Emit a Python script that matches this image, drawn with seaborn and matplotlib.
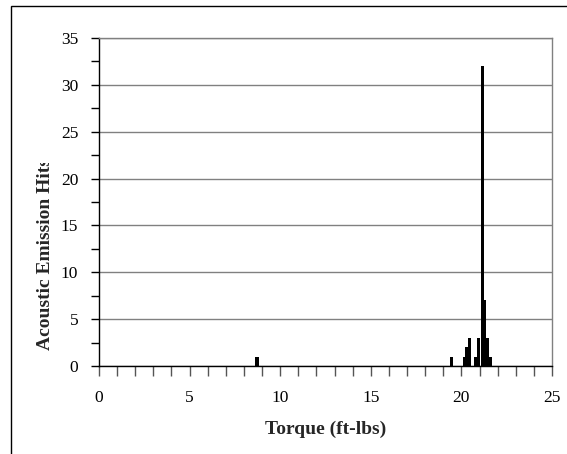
import numpy as np
import pandas as pd
import matplotlib
matplotlib.use("Agg")
import matplotlib.pyplot as plt
from matplotlib.patches import Rectangle
from matplotlib.ticker import MultipleLocator, FuncFormatter
from matplotlib.transforms import Bbox
import seaborn as sns

# ---------------------------------------------------------------------------
#  Data
# ---------------------------------------------------------------------------
torque = [8.72, 19.44, 20.16, 20.305, 20.45, 20.79, 20.935, 21.15, 21.295, 21.44, 21.585]
hits = [1, 1, 1, 2, 3, 1, 3, 32, 7, 3, 1]

x_label = "Torque (ft-lbs)"
y_label = "Acoustic Emission Hits"
bar_width = 0.175  # data units

W, H = 567, 454

sns.set_theme(style="white")
plt.rcParams['font.family'] = ['Liberation Serif', 'DejaVu Serif']

fig = plt.figure(figsize=(W / 100, H / 100), dpi=100)
ax = fig.add_axes([99 / W, 1 - 366 / H, (552 - 99) / W, (366 - 38) / H])

df = pd.DataFrame({'torque': torque, 'hits': hits})
min_gap = np.diff(np.sort(df['torque'].unique())).min()
sns.barplot(data=df, x='torque', y='hits', native_scale=True, orient='x',
            color='black', saturation=1, errorbar=None,
            width=bar_width / min_gap, linewidth=0, ax=ax, zorder=3)

ax.set_xlim(0, 25)
ax.set_ylim(0, 35)

# ticks
ax.xaxis.set_major_locator(MultipleLocator(1))
ax.xaxis.set_major_formatter(FuncFormatter(lambda v, p: f"{v:.0f}" if v % 5 == 0 else ""))
ax.yaxis.set_major_locator(MultipleLocator(5))
ax.yaxis.set_minor_locator(MultipleLocator(2.5))
ax.tick_params(axis='x', which='major', direction='out', length=7, width=1,
               color='#555555', labelsize=12.5, pad=10, bottom=True)
ax.tick_params(axis='y', which='both', direction='out', length=6, width=1,
               color='black', labelsize=12.5, pad=9, left=True)
for lab in ax.get_xticklabels() + ax.get_yticklabels():
    lab.set_color('black')

# grid and frame
ax.yaxis.grid(True, which='major', color='#808080', linewidth=1)
ax.xaxis.grid(False)
ax.set_axisbelow(True)
for side in ['top', 'right']:
    ax.spines[side].set_color('#808080')
    ax.spines[side].set_linewidth(1)
for side in ['left', 'bottom']:
    ax.spines[side].set_color('black')
    ax.spines[side].set_linewidth(1)

ax.set_xlabel(x_label, fontsize=14, fontweight='bold', labelpad=11)
ax.set_ylabel("")

# y label, clipped like in the original chart
ylab = fig.text(46 / W, 1 - 350 / H, y_label, rotation=90, ha='center', va='bottom',
                fontsize=14, fontweight='bold')
ylab.set_clip_box(Bbox([[0, 0], [W, H - 163]]))
ylab.set_clip_on(True)

# outer chart border (runs off the canvas at the right and bottom)
fig.patches.append(Rectangle((11 / W, -0.1), 1.1, 1 - 6 / H + 0.1,
                             transform=fig.transFigure, fill=False,
                             edgecolor='black', linewidth=1))

fig.savefig("out.png", dpi=100)
